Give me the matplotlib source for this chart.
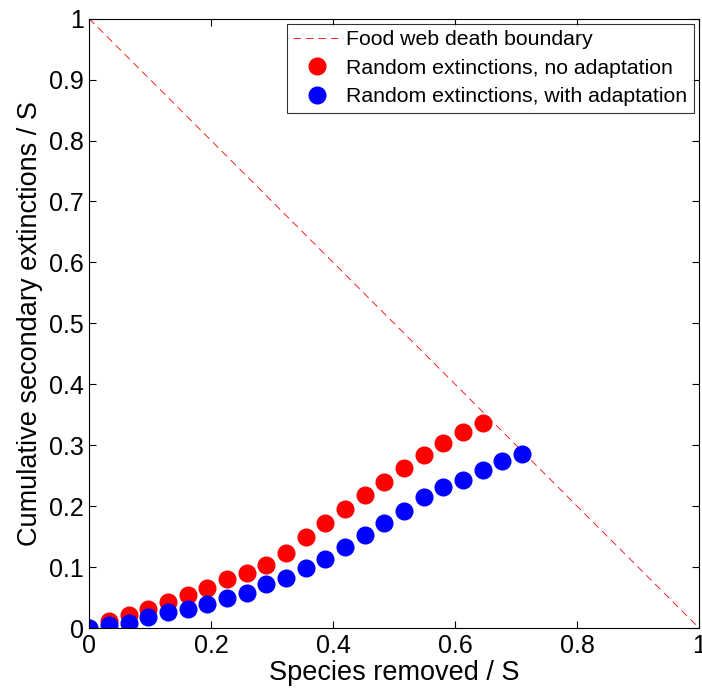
import matplotlib.pyplot as plt
import numpy as np

plt.rcParams['font.family'] = ['Liberation Sans', 'DejaVu Sans']

# fraction of species removed, one step per species (S = 31)
S = 31
no_adapt = [0, 0.012, 0.021, 0.031, 0.043, 0.055, 0.066, 0.080, 0.090, 0.104,
            0.124, 0.149, 0.173, 0.196, 0.218, 0.240, 0.262, 0.284, 0.303,
            0.321, 0.337]
with_adapt = [0, 0.005, 0.009, 0.018, 0.026, 0.032, 0.040, 0.049, 0.057,
              0.072, 0.083, 0.099, 0.114, 0.133, 0.152, 0.172, 0.192, 0.215,
              0.231, 0.243, 0.260, 0.274, 0.285]
x_no = np.arange(len(no_adapt)) / S
x_with = np.arange(len(with_adapt)) / S

boundary_x = [0, 1]
boundary_y = [1, 0]

ticks = [0, 0.2, 0.4, 0.6, 0.8, 1]
yticks = [0, 0.1, 0.2, 0.3, 0.4, 0.5, 0.6, 0.7, 0.8, 0.9, 1]

fig = plt.figure(figsize=(7.02, 6.91), dpi=100)
ax = fig.add_axes([0.127, 0.091, 0.869, 0.882])

ax.plot(boundary_x, boundary_y, color='red', lw=0.6, dashes=(9, 6),
        label='Food web death boundary')
ax.plot(x_no, no_adapt, 'o', color='red', ms=12, mec='red',
        label='Random extinctions, no adaptation')
ax.plot(x_with, with_adapt, 'o', color='blue', ms=12, mec='blue',
        label='Random extinctions, with adaptation')

ax.set_xlim(0, 1)
ax.set_ylim(0, 1)
ax.set_xticks(ticks)
ax.set_xticklabels(['0', '0.2', '0.4', '0.6', '0.8', '1'])
ax.set_yticks(yticks)
ax.set_yticklabels(['0', '0.1', '0.2', '0.3', '0.4', '0.5', '0.6', '0.7',
                    '0.8', '0.9', '1'])
ax.tick_params(direction='in', length=5, width=0.8, labelsize=18,
               top=True, right=True, pad=4)
for sp in ax.spines.values():
    sp.set_linewidth(0.8)

ax.set_xlabel('Species removed / S', fontsize=19.5, labelpad=2)
ax.set_ylabel('Cumulative secondary extinctions / S', fontsize=19.5, labelpad=4)

leg = ax.legend(loc='upper right', fontsize=15.3, frameon=True, fancybox=False,
                edgecolor='black', borderaxespad=0.25, handlelength=2.2,
                handletextpad=0.3, labelspacing=0.45, borderpad=0.3)
leg.get_frame().set_linewidth(0.8)

fig.savefig('out.png', dpi=100)
